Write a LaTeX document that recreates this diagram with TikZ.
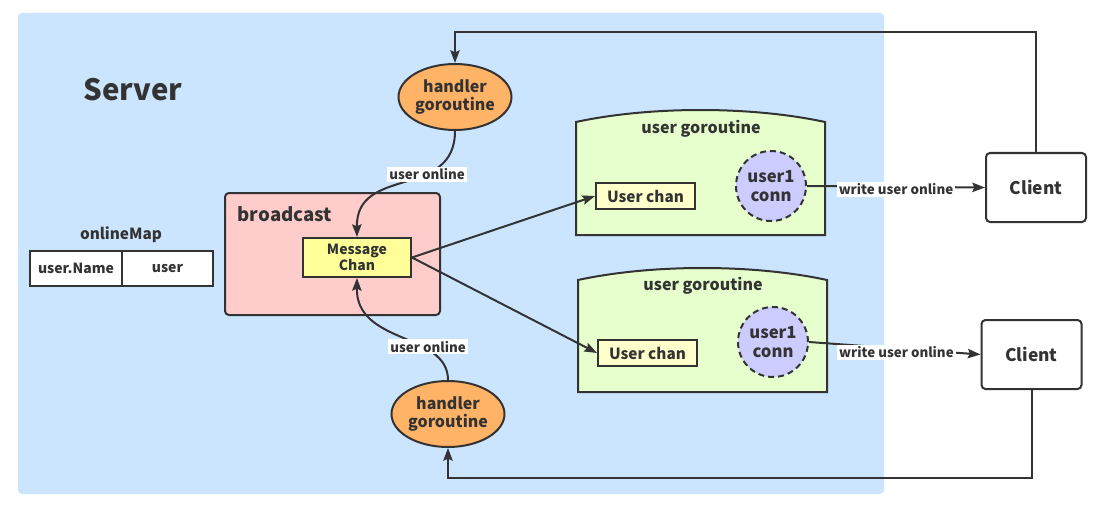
\documentclass[tikz,border=0pt]{standalone}
\usepackage{fontspec}
\setmainfont{Noto Sans CJK SC}
\usetikzlibrary{shapes.geometric,arrows.meta}
\definecolor{srv}{RGB}{204,229,255}
\definecolor{txt}{RGB}{51,51,51}
\definecolor{pinkc}{RGB}{255,204,204}
\definecolor{yel}{RGB}{255,255,153}
\definecolor{lyel}{RGB}{255,255,204}
\definecolor{orng}{RGB}{255,179,102}
\definecolor{grn}{RGB}{230,255,204}
\definecolor{lav}{RGB}{204,204,255}
\tikzset{
  every node/.style={text=txt,font=\bfseries},
  bd/.style={draw=txt,line width=1.5pt},
  hgoro/.style={bd,ellipse,fill=orng,minimum width=84pt,minimum height=49.5pt,inner sep=0pt,align=center,font=\bfseries\fontsize{12}{14}\selectfont},
  uchan/.style={bd,rectangle,fill=lyel,minimum width=74.25pt,minimum height=19.5pt,inner sep=0pt,font=\bfseries\fontsize{11.5}{13}\selectfont},
  conn/.style={bd,dashed,dash pattern=on 4.5pt off 3pt,circle,fill=lav,minimum size=52.5pt,inner sep=0pt,align=center,font=\bfseries\fontsize{12.5}{14.5}\selectfont},
  client/.style={bd,rectangle,rounded corners=3pt,fill=white,minimum width=75pt,minimum height=51.75pt,inner sep=0pt,font=\bfseries\fontsize{13}{15}\selectfont},
  cell/.style={bd,rectangle,fill=white,minimum width=69pt,minimum height=26.25pt,inner sep=0pt,font=\bfseries\fontsize{10.5}{12}\selectfont},
  goro/.style={bd,fill=grn},
  arr/.style={draw=txt,line width=1.5pt,-{Stealth[length=9.5pt,width=7pt,inset=1.5pt]}},
  elab/.style={fill=white,inner sep=1.5pt,font=\bfseries\fontsize{10}{11}\selectfont},
  ttl/.style={font=\bfseries\fontsize{12}{14}\selectfont}
}
\begin{document}
\begin{tikzpicture}[x=0.75pt,y=-0.75pt]
\useasboundingbox (0,0) rectangle (1104,528);
\fill[white] (0,0) rectangle (1104,528);
% server area
\fill[srv,rounded corners=3pt] (18,13) rectangle (884,494);
\node[anchor=west,font=\bfseries\fontsize{22}{24}\selectfont] (server) at (79,90) {Server};
% onlineMap
\node[font=\bfseries\fontsize{11.5}{13}\selectfont] (omlabel) at (121,235) {onlineMap};
\node[cell] (c1) at (76,268.5) {user.Name};
\node[cell,minimum width=68.25pt] (c2) at (167.5,268.5) {user};
% broadcast
\node[bd,rectangle,rounded corners=3pt,fill=pinkc,minimum width=161.25pt,minimum height=91.5pt,inner sep=0pt] (bc) at (332.5,254) {};
\node[anchor=west,font=\bfseries\fontsize{14}{16}\selectfont] (bclabel) at (233,214) {broadcast};
\node[bd,rectangle,fill=yel,minimum width=81pt,minimum height=29.25pt,inner sep=0pt,align=center,font=\bfseries\fontsize{10.5}{12}\selectfont] (mc) at (357,257.5) {Message\\Chan};
% handler goroutines
\node[hgoro] (hg1) at (455,97) {handler\\goroutine};
\node[hgoro] (hg2) at (448,414) {handler\\goroutine};
% user goroutine 1
\path[goro] (576,235) -- (576,122) .. controls (650,106) and (751,106) .. (825,122) -- (825,235) -- cycle;
\node[ttl] (ug1) at (701,129) {user goroutine};
\node[uchan] (uc1) at (645.5,196) {User chan};
\node[conn] (cn1) at (771,186) {user1\\conn};
% user goroutine 2
\path[goro] (578,392) -- (578,280) .. controls (652,264) and (753,264) .. (827,280) -- (827,392) -- cycle;
\node[ttl] (ug2) at (703,286) {user goroutine};
\node[uchan] (uc2) at (647.5,353) {User chan};
\node[conn] (cn2) at (773,342) {user1\\conn};
% clients
\node[client] (cl1) at (1036,187.5) {Client};
\node[client] (cl2) at (1031.5,354.5) {Client};
% connectors
\coordinate (ytop) at (0,32);
\coordinate (ybot) at (0,478);
\draw[arr] (cl1.north) -- (cl1.north |- ytop) -| (hg1.north);
\draw[arr] (cl2.south) -- (cl2.south |- ybot) -| (hg2.south);
\draw[arr] (hg1.south) .. controls (455,200) and (356,165) .. (mc.north) node[pos=0.35,elab] (lb1) {user online};
\draw[arr] (hg2.north) .. controls (448,332) and (356,345) .. (mc.south) node[pos=0.3,elab,yshift=2pt] (lb2) {user online};
\draw[arr] (mc.east) -- (uc1.west);
\draw[arr] (mc.east) -- (uc2.west);
\draw[arr] (cn1.east) -- (cl1.west) node[pos=0.5,elab,yshift=-2pt] (w1) {write user online};
\draw[arr] (cn2.east) -- (cl2.west) node[pos=0.51,elab,yshift=-3pt] (w2) {write user online};
\end{tikzpicture}
\end{document}
